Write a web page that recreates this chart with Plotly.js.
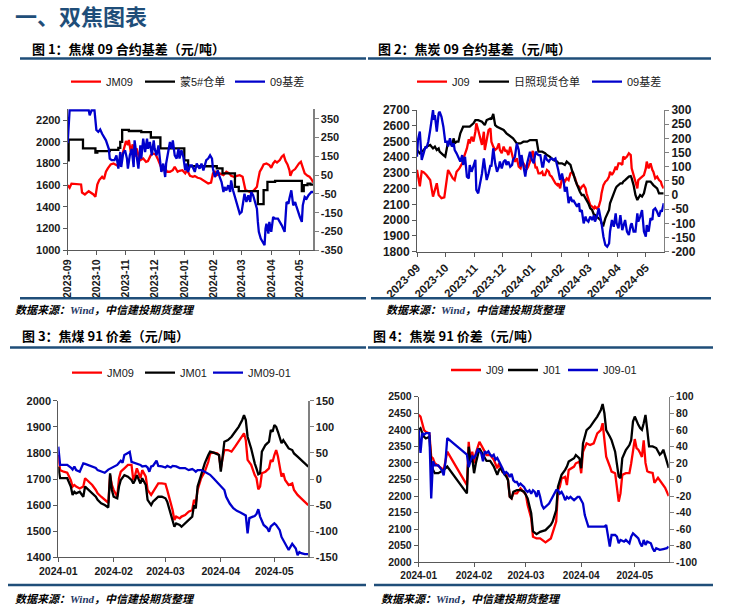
<!DOCTYPE html>
<html><head><meta charset="utf-8">
<script src="https://cdn.plot.ly/plotly-3.0.1.min.js"></script>
<style>html,body{margin:0;padding:0;background:#fff;}#chart{width:732px;height:614px;}</style>
</head><body><div id="chart"></div>
<script>
// ---------- DATA (x = days since the chart's start date) ----------
const c1Start = '2023-09-01';
const c1JM09 = [[0,1600],[2,1576],[4,1615],[9,1612],[14,1607],[15,1533],[18,1515],[22,1545],[24,1533],[27,1515],[29,1493],[31,1607],[33,1647],[36,1678],[38,1656],[40,1724],[42,1755],[45,1792],[48,1801],[50,1792],[53,1776],[55,1810],[57,1878],[59,1955],[61,2007],[63,1970],[64,2017],[66,1909],[68,1977],[70,1863],[72,1940],[74,1878],[76,1832],[79,1847],[82,1816],[84,1823],[87,1878],[89,1893],[92,1884],[94,1847],[96,1801],[99,1739],[102,1755],[104,1724],[107,1724],[110,1739],[112,1770],[115,1724],[117,1733],[120,1739],[123,1709],[125,1739],[128,1687],[131,1678],[133,1684],[136,1669],[139,1662],[142,1647],[145,1632],[147,1616],[150,1625],[152,1709],[154,1724],[156,1693],[159,1709],[163,1693],[166,1724],[169,1709],[171,1687],[174,1678],[177,1687],[180,1693],[183,1678],[185,1601],[186,1555],[189,1545],[192,1533],[195,1555],[198,1585],[199,1638],[201,1724],[203,1755],[205,1792],[208,1801],[211,1786],[213,1761],[215,1801],[217,1823],[219,1810],[222,1832],[224,1863],[226,1878],[228,1823],[230,1792],[232,1739],[233,1687],[235,1730],[238,1749],[240,1780],[242,1801],[244,1816],[246,1761],[248,1709],[251,1687],[253,1678],[255,1656],[257,1625]];
const c1Meng5 = [[0,1830],[1,2020],[16,1940],[29,1900],[31,1915],[44,1925],[53,1945],[55,2000],[57,2110],[64,2100],[77,2090],[87,2040],[97,1940],[122,1830],[126,1775],[156,1755],[162,1710],[175,1585],[179,1545],[199,1425],[205,1555],[209,1630],[217,1640],[245,1545],[247,1600],[251,1615],[254,1605],[257,1605]];
const c1Basis = [[0,220],[2,395],[11,395],[22,395],[23,368],[25,395],[28,395],[30,290],[32,280],[34,293],[36,270],[37,262],[40,235],[43,190],[44,138],[46,130],[49,130],[51,155],[53,84],[55,173],[56,93],[58,165],[60,182],[62,138],[63,84],[65,155],[67,190],[69,93],[70,235],[72,155],[74,84],[76,208],[77,138],[79,244],[81,173],[83,244],[84,190],[86,226],[88,155],[90,235],[91,190],[93,155],[95,208],[97,111],[98,67],[100,111],[102,40],[103,111],[105,182],[107,226],[109,190],[110,235],[112,155],[114,138],[116,190],[117,138],[119,182],[121,146],[123,75],[124,111],[126,67],[128,102],[130,102],[131,93],[133,67],[135,111],[138,84],[140,111],[142,75],[144,111],[145,129],[147,138],[149,155],[151,138],[152,84],[154,40],[156,67],[157,75],[159,40],[161,13],[163,-40],[164,-13],[166,-31],[168,-4],[170,-40],[171,22],[173,-31],[175,-66],[177,-111],[178,-129],[180,-155],[182,-146],[184,-93],[185,-49],[187,-93],[189,-57],[191,-93],[192,-40],[194,-57],[196,-93],[198,-129],[199,-199],[200,-252],[202,-288],[204,-306],[206,-323],[207,-235],[208,-208],[210,-261],[211,-199],[213,-252],[215,-173],[217,-182],[220,-182],[224,-217],[227,-252],[229,-93],[231,-102],[232,-75],[234,-31],[236,-111],[238,-93],[239,-111],[241,-146],[243,-173],[245,-199],[246,-111],[248,-66],[250,-75],[252,-57],[253,-49],[255,-40],[257,-40]];

const c2Start = '2023-09-01';
const c2J09 = [[0,2320],[3,2215],[5,2310],[7,2305],[10,2287],[14,2255],[17,2150],[19,2192],[21,2235],[23,2160],[26,2140],[29,2145],[31,2245],[33,2319],[35,2298],[38,2266],[40,2255],[42,2308],[45,2329],[48,2361],[50,2404],[53,2456],[55,2514],[56,2488],[58,2530],[60,2499],[62,2562],[63,2615],[65,2573],[67,2530],[69,2478],[71,2562],[72,2446],[74,2509],[76,2573],[78,2583],[79,2499],[81,2467],[83,2446],[85,2456],[87,2488],[88,2446],[90,2425],[92,2467],[94,2435],[95,2446],[97,2414],[99,2467],[101,2425],[102,2393],[104,2372],[106,2393],[108,2340],[110,2329],[111,2351],[113,2361],[115,2340],[117,2329],[118,2340],[120,2372],[122,2425],[123,2440],[124,2393],[126,2329],[127,2340],[129,2298],[131,2298],[133,2308],[134,2287],[136,2287],[138,2319],[140,2308],[141,2287],[143,2277],[145,2255],[147,2234],[149,2223],[150,2234],[152,2202],[154,2266],[156,2255],[157,2245],[159,2266],[161,2255],[163,2298],[165,2308],[166,2287],[168,2266],[170,2223],[172,2213],[173,2192],[175,2213],[177,2223],[179,2202],[180,2171],[182,2128],[184,2096],[186,2086],[188,2075],[189,2086],[191,2075],[193,2086],[195,2128],[196,2171],[198,2223],[200,2245],[202,2255],[204,2277],[205,2308],[207,2287],[209,2308],[211,2340],[212,2319],[214,2361],[216,2361],[218,2351],[219,2404],[221,2393],[223,2404],[225,2425],[227,2414],[228,2329],[230,2277],[232,2245],[234,2202],[235,2255],[237,2266],[239,2277],[241,2287],[243,2329],[244,2372],[246,2329],[248,2361],[250,2319],[251,2308],[253,2266],[255,2277],[257,2255],[259,2245],[260,2223],[262,2202]];
const c2Rizhao = [[0,2446],[3,2425],[7,2446],[10,2467],[14,2478],[17,2456],[19,2467],[21,2446],[23,2456],[24,2435],[28,2414],[30,2404],[32,2467],[33,2499],[35,2488],[37,2478],[39,2520],[40,2488],[42,2499],[44,2499],[46,2552],[48,2583],[49,2594],[53,2594],[56,2594],[60,2615],[62,2636],[65,2636],[69,2626],[72,2604],[74,2636],[78,2647],[79,2640],[81,2675],[83,2604],[85,2594],[88,2583],[92,2573],[95,2552],[99,2531],[102,2520],[106,2488],[110,2488],[113,2499],[117,2499],[120,2509],[124,2509],[127,2509],[129,2435],[133,2435],[136,2425],[138,2414],[141,2404],[145,2382],[149,2372],[150,2361],[154,2361],[157,2351],[159,2372],[161,2361],[163,2351],[165,2308],[166,2298],[168,2255],[170,2223],[172,2192],[173,2181],[175,2160],[177,2160],[179,2139],[180,2128],[182,2107],[184,2075],[186,2065],[188,2033],[189,2033],[191,2022],[193,2012],[195,2001],[196,1980],[198,1969],[200,2012],[202,2044],[204,2065],[205,2107],[207,2139],[209,2181],[211,2202],[212,2213],[214,2223],[216,2234],[218,2234],[219,2245],[221,2255],[223,2266],[225,2277],[227,2280],[228,2266],[230,2223],[232,2160],[234,2128],[235,2139],[237,2160],[239,2150],[241,2171],[243,2223],[244,2245],[248,2245],[251,2223],[255,2202],[257,2171],[262,2171]];
const c2Basis = [[0,135],[1,194],[3,224],[5,124],[7,147],[9,171],[10,165],[12,188],[14,229],[16,271],[17,300],[18,265],[19,282],[21,224],[23,288],[24,294],[26,276],[28,241],[30,188],[32,188],[33,171],[35,200],[37,171],[39,182],[40,159],[42,147],[44,135],[46,118],[48,141],[49,106],[51,135],[53,65],[55,59],[56,106],[58,82],[60,106],[62,124],[63,18],[65,6],[67,41],[69,76],[71,129],[72,106],[74,53],[76,76],[78,106],[79,100],[81,165],[83,112],[85,82],[87,100],[88,118],[90,94],[92,118],[94,124],[95,106],[97,118],[99,100],[101,106],[102,124],[104,135],[106,182],[108,159],[110,100],[111,141],[113,100],[115,65],[117,112],[118,129],[120,153],[122,124],[124,112],[126,153],[127,147],[129,141],[131,141],[133,100],[134,100],[136,141],[138,124],[140,118],[141,124],[143,129],[145,124],[147,129],[149,106],[150,88],[152,53],[154,76],[156,41],[157,12],[159,29],[161,-29],[163,-6],[165,-24],[166,-18],[168,-29],[170,-41],[172,-29],[173,-59],[175,-53],[177,-100],[179,-76],[180,-88],[182,-94],[184,-76],[186,-88],[188,-71],[189,-94],[191,-76],[193,-47],[195,-76],[196,-100],[198,-147],[200,-176],[202,-182],[204,-171],[205,-129],[207,-88],[209,-112],[211,-65],[212,-100],[214,-118],[216,-71],[218,-124],[219,-112],[221,-88],[223,-129],[225,-141],[227,-106],[228,-100],[230,-129],[232,-129],[234,-65],[235,-94],[237,-76],[239,-53],[241,-129],[243,-147],[244,-106],[246,-129],[248,-82],[250,-88],[251,-53],[253,-47],[255,-59],[257,-76],[259,-53],[260,-59],[262,-29]];

const c3Start = '2024-01-01';
const c3Days = [0,1,3,5,7,8,9,10,12,14,15,17,19,21,22,24,26,28,29,30,31,33,34,35,37,39,41,42,43,44,46,47,49,50,52,53,55,56,58,60,61,63,64,65,66,68,69,71,73,75,76,77,78,80,82,84,85,87,89,90,91,92,93,95,97,99,101,103,104,105,106,108,109,110,111,112,113,114,116,118,119,120,121,122,123,124,125,126,127,129,131,132,134,136,138,140];
const c3JM09 = [1792,1734,1728,1724,1696,1671,1677,1671,1664,1671,1703,1690,1677,1658,1645,1632,1620,1609,1715,1677,1658,1632,1703,1728,1741,1754,1754,1696,1715,1741,1703,1734,1709,1658,1639,1651,1671,1683,1683,1681,1658,1607,1581,1543,1556,1549,1556,1562,1575,1581,1620,1607,1658,1703,1728,1766,1798,1801,1798,1792,1741,1779,1811,1811,1805,1824,1843,1862,1875,1849,1773,1754,1734,1715,1703,1660,1671,1722,1728,1741,1773,1766,1792,1811,1786,1747,1709,1722,1696,1677,1683,1658,1639,1626,1613,1600];
const c3JM01 = [1747,1703,1703,1703,1671,1639,1651,1645,1651,1632,1671,1658,1645,1632,1620,1607,1600,1591,1722,1658,1632,1626,1671,1696,1715,1709,1696,1683,1696,1715,1683,1703,1677,1620,1600,1613,1626,1632,1632,1626,1613,1562,1543,1517,1530,1524,1517,1530,1543,1556,1600,1587,1671,1715,1760,1792,1805,1801,1796,1792,1728,1798,1843,1849,1862,1881,1900,1926,1945,1926,1862,1817,1785,1760,1740,1718,1722,1805,1830,1843,1888,1881,1907,1900,1881,1862,1837,1849,1837,1817,1811,1798,1786,1773,1760,1747];
const c3Spread = [[0,62],[1,27],[3,27],[5,27],[7,22],[8,18],[9,24],[10,17],[12,14],[14,30],[15,29],[17,26],[19,24],[21,21],[22,17],[24,14],[26,12],[28,18],[29,20],[30,22],[31,24],[33,27],[34,31],[35,35],[36,31],[37,46],[39,50],[40,52],[41,33],[43,31],[44,29],[46,27],[47,24],[49,25],[50,22],[51,14],[52,24],[53,25],[55,35],[56,25],[58,24],[60,22],[61,25],[63,22],[64,25],[66,24],[68,21],[69,21],[71,21],[73,17],[75,19],[76,17],[77,14],[78,17],[80,17],[82,14],[84,11],[85,8],[87,1],[89,-7],[91,-15],[93,-21],[94,-34],[96,-47],[98,-56],[100,-61],[102,-64],[104,-67],[105,-70],[106,-104],[107,-75],[109,-72],[110,-71],[111,-67],[112,-58],[113,-72],[115,-88],[117,-94],[118,-101],[119,-91],[121,-85],[122,-88],[123,-94],[124,-98],[125,-111],[127,-124],[129,-136],[130,-130],[131,-124],[133,-133],[134,-146],[135,-140],[136,-142],[138,-144],[140,-144]];

const c4Start = '2024-01-01';
const c4J09 = [[0,2445],[1,2440],[2,2420],[3,2399],[4,2394],[6,2389],[7,2319],[8,2314],[9,2299],[11,2290],[14,2279],[16,2334],[27,2233],[28,2364],[29,2304],[30,2334],[31,2299],[32,2330],[34,2364],[36,2344],[38,2324],[40,2324],[42,2310],[44,2284],[45,2299],[46,2284],[47,2272],[49,2268],[50,2248],[51,2198],[52,2193],[53,2208],[55,2208],[57,2223],[59,2210],[60,2205],[61,2173],[63,2133],[64,2077],[66,2072],[68,2072],[71,2060],[74,2072],[75,2087],[77,2123],[78,2218],[79,2228],[80,2253],[82,2258],[83,2233],[84,2279],[87,2289],[88,2299],[90,2304],[91,2269],[92,2334],[94,2359],[96,2354],[98,2359],[100,2389],[102,2399],[103,2420],[104,2369],[105,2319],[107,2290],[108,2274],[110,2269],[111,2218],[112,2183],[113,2208],[114,2264],[116,2269],[118,2269],[119,2299],[120,2344],[121,2372],[122,2345],[123,2340],[124,2330],[125,2318],[126,2368],[127,2300],[128,2275],[129,2272],[131,2270],[132,2240],[134,2255],[136,2240],[138,2225],[140,2200]];
const c4J01 = [[0,2400],[1,2405],[2,2390],[3,2379],[4,2374],[6,2379],[7,2299],[8,2279],[9,2269],[11,2269],[14,2279],[16,2289],[27,2208],[28,2349],[29,2304],[30,2314],[31,2269],[32,2299],[34,2344],[36,2324],[38,2306],[40,2306],[42,2290],[44,2264],[45,2279],[46,2284],[47,2274],[49,2259],[50,2249],[51,2198],[52,2193],[53,2213],[55,2218],[57,2218],[59,2213],[60,2203],[61,2193],[63,2148],[64,2093],[66,2085],[68,2092],[71,2097],[74,2113],[75,2123],[77,2158],[78,2228],[79,2248],[80,2264],[82,2279],[83,2289],[84,2304],[87,2314],[88,2324],[90,2314],[91,2284],[92,2359],[94,2399],[96,2409],[98,2425],[100,2440],[102,2460],[103,2478],[104,2450],[105,2399],[107,2380],[108,2369],[110,2334],[111,2299],[112,2259],[113,2254],[114,2314],[116,2339],[118,2354],[119,2369],[120,2425],[121,2440],[122,2425],[123,2415],[124,2405],[125,2400],[126,2420],[127,2445],[128,2400],[129,2350],[131,2350],[133,2345],[135,2325],[136,2330],[137,2340],[138,2320],[140,2285]];
const c4Spread = [[0,60],[1,32],[2,56],[3,54],[4,56],[6,56],[7,-23],[8,22],[9,17],[11,17],[13,11],[14,5],[15,22],[16,50],[27,30],[28,15],[29,22],[30,28],[31,26],[32,30],[33,36],[35,32],[36,22],[37,34],[38,32],[39,34],[40,30],[41,28],[42,30],[43,24],[44,26],[45,22],[46,17],[47,13],[48,7],[49,9],[50,7],[51,3],[52,7],[53,-1],[54,-3],[55,-3],[56,-7],[57,-5],[58,-7],[59,-9],[60,-13],[61,-15],[62,-13],[63,-17],[64,-13],[65,-15],[66,-21],[67,-13],[68,-21],[69,-31],[70,-35],[71,-33],[72,-31],[73,-29],[74,-25],[75,-21],[76,-17],[77,-13],[78,-13],[79,-17],[80,-15],[81,-19],[82,-25],[83,-21],[84,-23],[85,-21],[86,-23],[87,-25],[88,-23],[89,-21],[90,-21],[91,-25],[92,-29],[93,-43],[94,-51],[95,-57],[100,-57],[104,-57],[105,-55],[106,-69],[107,-81],[108,-67],[109,-67],[110,-67],[111,-69],[112,-77],[113,-73],[115,-75],[116,-73],[118,-77],[119,-69],[120,-65],[122,-69],[123,-71],[124,-77],[125,-81],[126,-73],[127,-79],[128,-75],[130,-77],[131,-83],[132,-87],[133,-83],[135,-85],[137,-84],[139,-83],[140,-81]];

// tick values / labels
const c1MonthVals = ['2023-09-01','2023-10-01','2023-11-01','2023-12-01','2024-01-01','2024-02-01','2024-03-01','2024-04-01','2024-05-01'];
const c1MonthText = ['2023-09','2023-10','2023-11','2023-12','2024-01','2024-02','2024-03','2024-04','2024-05'];
const c34MonthVals = ['2024-01-01','2024-02-01','2024-03-01','2024-04-01','2024-05-01'];
const c34MonthText = ['2024-01','2024-02','2024-03','2024-04','2024-05'];
const c1LeftTicks = [1000,1200,1400,1600,1800,2000,2200];
const c1RightTicks = [-350,-250,-150,-50,50,150,250,350];
const c2LeftTicks = [1800,1900,2000,2100,2200,2300,2400,2500,2600,2700];
const c2RightTicks = [-200,-150,-100,-50,0,50,100,150,200,250,300];
const c3LeftTicks = [1400,1500,1600,1700,1800,1900,2000];
const c3RightTicks = [-150,-100,-50,0,50,100,150];
const c4LeftTicks = [2000,2050,2100,2150,2200,2250,2300,2350,2400,2450,2500];
const c4RightTicks = [-100,-80,-60,-40,-20,0,20,40,60,80,100];

// ---------- BUILD ----------
const W = 732, H = 614;
const px = v => v / W, py = v => 1 - v / H;
const LAT = 'Liberation Sans, Arial, Noto Sans CJK SC, sans-serif';
const CJK = 'Noto Sans CJK SC, Liberation Sans, sans-serif';
const RED = '#ff0000', BLK = '#000000', BLU = '#0000cc';

function toDate(start, d) {
  const t = Date.parse(start + 'T00:00:00Z') + d * 86400000;
  return new Date(t).toISOString().slice(0, 10);
}
function tr(start, days, vals, name, color, xa, ya, leg, shape) {
  return {type: 'scatter', mode: 'lines', name: name,
    x: days.map(d => toDate(start, d)), y: vals,
    line: {color: color, width: 2.3, shape: shape || 'linear'},
    xaxis: xa, yaxis: ya, legend: leg, hoverinfo: 'skip'};
}
function trP(start, pairs, name, color, xa, ya, leg, shape) {
  return tr(start, pairs.map(p => p[0]), pairs.map(p => p[1]), name, color, xa, ya, leg, shape);
}

const data = [
  trP(c1Start, c1JM09, 'JM09', RED, 'x', 'y', 'legend'),
  trP(c1Start, c1Meng5, '蒙5#仓单', BLK, 'x', 'y', 'legend2', 'hv'),
  trP(c1Start, c1Basis, '09基差', BLU, 'x', 'y2', 'legend3'),
  trP(c2Start, c2J09, 'J09', RED, 'x2', 'y3', 'legend4'),
  trP(c2Start, c2Rizhao, '日照现货仓单', BLK, 'x2', 'y3', 'legend5'),
  trP(c2Start, c2Basis, '09基差', BLU, 'x2', 'y4', 'legend6'),
  tr(c3Start, c3Days, c3JM09, 'JM09', RED, 'x3', 'y5', 'legend7'),
  tr(c3Start, c3Days, c3JM01, 'JM01', BLK, 'x3', 'y5', 'legend8'),
  trP(c3Start, c3Spread, 'JM09-01', BLU, 'x3', 'y6', 'legend9'),
  trP(c4Start, c4J09, 'J09', RED, 'x4', 'y7', 'legend10'),
  trP(c4Start, c4J01, 'J01', BLK, 'x4', 'y7', 'legend11'),
  trP(c4Start, c4Spread, 'J09-01', BLU, 'x4', 'y8', 'legend12')
];

function tickFont(size) { return {family: LAT, size: size, weight: 'bold', color: '#1a1a1a'}; }
function xAx(domain, anchor, range, vals, text, angle, fs) {
  return {domain: domain, anchor: anchor, type: 'date', range: range, tickmode: 'array',
    tickvals: vals, ticktext: text, tickangle: angle, ticks: 'outside', ticklen: 4,
    tickcolor: '#595959', showline: true, linecolor: '#595959', linewidth: 1,
    showgrid: false, zeroline: false, tickfont: tickFont(fs), fixedrange: true};
}
function yAx(domain, anchor, range, vals, fs) {
  return {domain: domain, anchor: anchor, range: range, tickmode: 'array', tickvals: vals,
    ticktext: vals.map(String), ticks: 'outside', ticklen: 4, tickcolor: '#595959',
    showline: true, linecolor: '#595959', linewidth: 1, showgrid: false, zeroline: false,
    tickfont: tickFont(fs), fixedrange: true};
}
function yAxR(over, anchor, range, vals, fs) {
  return {overlaying: over, side: 'right', anchor: anchor, range: range, tickmode: 'array',
    tickvals: vals, ticktext: vals.map(String), ticks: 'outside', ticklen: 4,
    tickcolor: '#808080', showline: true, linecolor: '#808080', linewidth: 1.3,
    showgrid: false, zeroline: false, tickfont: tickFont(fs), fixedrange: true};
}
function leg(textX, y) {
  return {x: px(textX - 40), y: py(y), xanchor: 'left', yanchor: 'middle', orientation: 'h',
    bgcolor: 'rgba(0,0,0,0)', borderwidth: 0,
    font: {family: LAT, size: 11, color: '#1a1a1a'}};
}
function note(text, x, y, font) {
  return {text: text, xref: 'paper', yref: 'paper', x: px(x), y: py(y), xanchor: 'left',
    yanchor: 'middle', showarrow: false, font: font};
}
function hline(x0, x1, y) {
  return {type: 'line', xref: 'paper', yref: 'paper', x0: px(x0), x1: px(x1), y0: py(y), y1: py(y),
    line: {color: '#1f4e79', width: 2.5}};
}
const figFont = {family: CJK, size: 13, weight: 'bold', color: '#000000'};
const srcFont = {family: CJK, size: 11, weight: 'bold', style: 'italic', color: '#000000'};
const srcText = '数据来源：<span style="font-family:Liberation Serif;fill:#1f3864">Wind</span>，中信建投期货整理';

const layout = {
  width: W, height: H, margin: {l: 0, r: 0, t: 0, b: 0},
  paper_bgcolor: '#ffffff', plot_bgcolor: '#ffffff',
  font: {family: LAT, color: '#1a1a1a'},
  showlegend: true,
  xaxis: xAx([px(67.7), px(313.3)], 'y', ['2023-09-01', '2024-05-15'], c1MonthVals, c1MonthText, -90, 10.5),
  yaxis: yAx([py(250.3), py(109.3)], 'x', [1000, 2300], c1LeftTicks, 11),
  yaxis2: yAxR('y', 'x', [-350, 400], c1RightTicks, 11),
  xaxis2: xAx([px(417), px(663.7)], 'y3', ['2023-09-01', '2024-05-20'], c1MonthVals, c1MonthText, -45, 11.5),
  yaxis3: yAx([py(251.7), py(110)], 'x2', [1800, 2700], c2LeftTicks, 12),
  yaxis4: yAxR('y3', 'x2', [-200, 300], c2RightTicks, 12),
  xaxis3: xAx([px(58.3), px(308.3)], 'y5', ['2024-01-01', '2024-05-20'], c34MonthVals, c34MonthText, 0, 10.5),
  yaxis5: yAx([py(557.3), py(400.7)], 'x3', [1400, 2000], c3LeftTicks, 11),
  yaxis6: yAxR('y5', 'x3', [-150, 150], c3RightTicks, 11),
  xaxis4: xAx([px(418.7), px(668.7)], 'y7', ['2024-01-01', '2024-05-20'], c34MonthVals, c34MonthText, 0, 10),
  yaxis7: yAx([py(562.3), py(396.7)], 'x4', [2000, 2500], c4LeftTicks, 10.5),
  yaxis8: yAxR('y7', 'x4', [-100, 100], c4RightTicks, 10.5),
  legend: leg(106, 81.7), legend2: leg(180, 81.7), legend3: leg(270, 81.7),
  legend4: leg(452, 81.7), legend5: leg(514, 81.7), legend6: leg(627, 81.7),
  legend7: leg(107, 372.7), legend8: leg(180, 372.7), legend9: leg(248, 372.7),
  legend10: leg(486, 370), legend11: leg(543, 370), legend12: leg(603, 370),
  annotations: [
    note('一、双焦图表', 13, 15, {family: CJK, size: 22, weight: 'bold', color: '#1f4e79'}),
    note('图 1：焦煤 09 合约基差（元/吨）', 30, 48, figFont),
    note('图 2：焦炭 09 合约基差（元/吨）', 376, 48, figFont),
    note('图 3：焦煤 91 价差（元/吨）', 20, 335, figFont),
    note('图 4：焦炭 91 价差（元/吨）', 371, 335, figFont),
    note(srcText, 13, 309, srcFont),
    note(srcText, 384, 309, srcFont),
    note(srcText, 13, 598, srcFont),
    note(srcText, 379, 598, srcFont)
  ],
  shapes: [
    hline(20, 366, 58.5), hline(368, 711, 58.5),
    hline(20, 366, 298.3), hline(371, 711, 298.3),
    hline(10, 366, 347.5), hline(368, 713, 347.5),
    hline(8, 366, 585), hline(374, 713, 585)
  ]
};

Plotly.newPlot('chart', data, layout, {displayModeBar: false, staticPlot: true});
</script>
</body></html>
